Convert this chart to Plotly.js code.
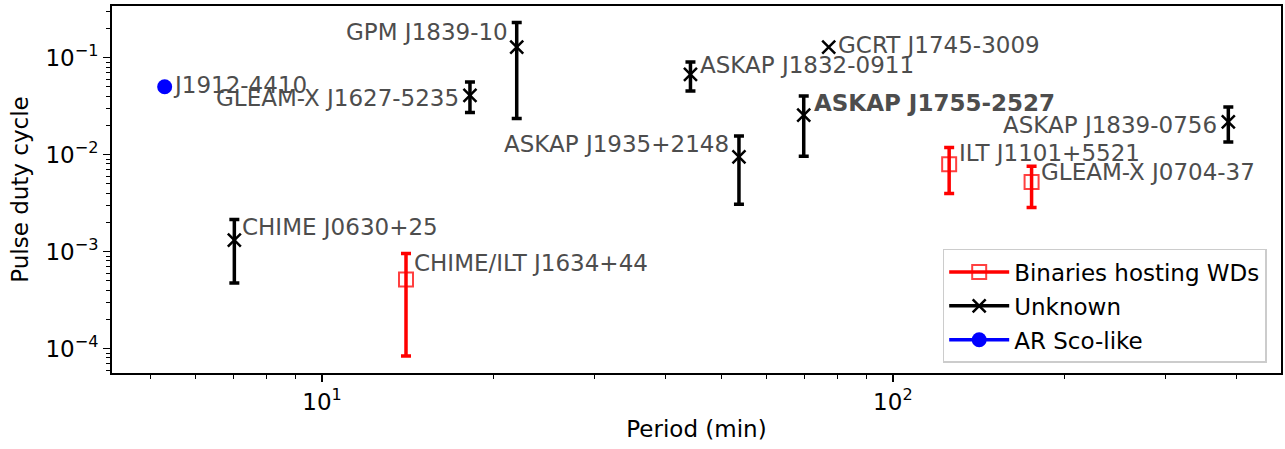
<!DOCTYPE html>
<html>
<head>
<meta charset="utf-8">
<script src="https://cdn.plot.ly/plotly-3.0.1.min.js"></script>
<style>html,body{margin:0;padding:0;background:#fff;}#plot{width:1285px;height:449px;}</style>
</head>
<body>
<div id="plot"></div>
<script>
// ---- data ----
const sourceNames = ["J1912-4410","CHIME J0630+25","GLEAM-X J1627-5235","GPM J1839-10","ASKAP J1832-0911",
  "ASKAP J1935+2148","ASKAP J1755-2527","GCRT J1745-3009","ILT J1101+5521","GLEAM-X J0704-37",
  "ASKAP J1839-0756","CHIME/ILT J1634+44"];
const periodMin = [5.30, 7.02, 18.16, 21.93, 44.2, 53.75, 69.8, 77.2, 125.5, 175, 387, 14.03];
const dutyCycle = [0.050, 1.31e-3, 0.0409, 0.1285, 0.0673, 9.47e-3, 0.0255, 0.1285, 7.96e-3, 5.23e-3, 0.0217, 5.16e-4];
const dutyUpper = [null, 2.14e-3, 0.0561, 0.2295, 0.0901, 0.01556, 0.0402, null, 0.01183, 7.59e-3, 0.0310, 9.57e-4];
const dutyLower = [null, 4.73e-4, 0.0271, 0.0235, 0.0453, 3.08e-3, 9.6e-3, null, 3.97e-3, 2.85e-3, 0.01352, 8.37e-5];
const sourceClass = ["AR Sco-like","Unknown","Unknown","Unknown","Unknown","Unknown","Unknown","Unknown",
  "Binaries hosting WDs","Binaries hosting WDs","Unknown","Binaries hosting WDs"];
const classOrder = ["Binaries hosting WDs","Unknown","AR Sco-like"];
const xTickVals = [10, 100];
const xTickText = ["10<sup>1</sup>","10<sup>2</sup>"];
const yTickVals = [1e-4, 1e-3, 1e-2, 1e-1];
const yTickText = ["10<sup>\u22124</sup>","10<sup>\u22123</sup>","10<sup>\u22122</sup>","10<sup>\u22121</sup>"];

// ---- styles ----
const classStyle = {
  "Binaries hosting WDs": {color: "red", symbol: "square-open", size: 14, lw: 2, mcolor: "rgba(255,0,0,0.75)"},
  "Unknown": {color: "black", symbol: "x-thin-open", size: 13, lw: 2.5, mcolor: "black"},
  "AR Sco-like": {color: "blue", symbol: "circle", size: 15, lw: 0, mcolor: "blue"}
};
// label placement: [anchor, dx px, dy px (positive = down), bold]
const labelPlace = {
  "J1912-4410": ["left", 6, -1.5, false],
  "CHIME J0630+25": ["left", 6, -13.7, false],
  "GLEAM-X J1627-5235": ["right", -9, 3, false],
  "GPM J1839-10": ["right", -7, -15, false],
  "ASKAP J1832-0911": ["left", 8, -9, false],
  "ASKAP J1935+2148": ["right", -8, -13, false],
  "ASKAP J1755-2527": ["left", 8, -12.5, true],
  "GCRT J1745-3009": ["left", 7.5, -1.7, false],
  "ILT J1101+5521": ["left", 8, -11.2, false],
  "GLEAM-X J0704-37": ["left", 7.5, -9.7, false],
  "ASKAP J1839-0756": ["right", -9.5, 2.8, false],
  "CHIME/ILT J1634+44": ["left", 6, -16.3, false]
};

const FONT = "DejaVu Sans, Liberation Sans, sans-serif";
const FS = 23;
const traces = [];
classOrder.forEach(function(cls){
  const st = classStyle[cls];
  const idxErr = [], idxNo = [];
  sourceClass.forEach(function(c,i){ if (c===cls){ (dutyUpper[i]!==null ? idxErr : idxNo).push(i); } });
  [idxErr, idxNo].forEach(function(idx, k){
    if (!idx.length) return;
    const t = {
      type: "scatter", mode: "markers", showlegend: false, hoverinfo: "skip",
      x: idx.map(i=>periodMin[i]), y: idx.map(i=>dutyCycle[i]),
      marker: {symbol: st.symbol, size: st.size, color: st.mcolor, line: {color: st.mcolor, width: st.lw}}
    };
    if (k===0) {
      t.error_y = {type: "data", symmetric: false,
        array: idx.map(i=>dutyUpper[i]-dutyCycle[i]),
        arrayminus: idx.map(i=>dutyCycle[i]-dutyLower[i]),
        color: st.color, thickness: 3.5, width: 5};
    }
    traces.push(t);
  });
});
// legend entries
classOrder.forEach(function(cls, g){
  const st = classStyle[cls];
  traces.push({type: "scatter", mode: "lines+markers", name: cls, x: [null], y: [null],
    legendgroup: "g"+g, showlegend: true,
    line: {color: st.color, width: 3.5},
    marker: {symbol: st.symbol, size: st.size, color: st.mcolor, line: {color: st.mcolor, width: st.lw}}});
});

const annotations = sourceNames.map(function(n,i){
  const p = labelPlace[n];
  return {x: Math.log10(periodMin[i]), y: Math.log10(dutyCycle[i]), xref: "x", yref: "y",
    text: p[3] ? "<b>"+n+"</b>" : n, showarrow: false, xanchor: p[0], yanchor: "middle",
    xshift: p[1], yshift: -p[2], font: {family: FONT, size: FS, color: "#4d4d4d"}};
});

const axisCommon = {
  type: "log", showgrid: false, zeroline: false, showline: true, mirror: true,
  linecolor: "black", linewidth: 2, ticks: "outside", ticklen: 7, tickwidth: 1.5, tickcolor: "black",
  tickfont: {family: FONT, size: FS, color: "black"},
  minor: {ticks: "outside", ticklen: 4, tickwidth: 1, tickcolor: "black", showgrid: false, dtick: "D1"}
};

const layout = {
  width: 1285, height: 449, paper_bgcolor: "white", plot_bgcolor: "white",
  margin: {l: 112, r: 4, t: 6, b: 76},
  font: {family: FONT, size: FS, color: "black"},
  xaxis: Object.assign({}, axisCommon, {range: [0.632, 2.680], tickvals: xTickVals, ticktext: xTickText,
    title: {text: "Period (min)", font: {family: FONT, size: FS, color: "black"}, standoff: 7}}),
  yaxis: Object.assign({}, axisCommon, {range: [-4.252, -0.468], tickvals: yTickVals, ticktext: yTickText,
    title: {text: "Pulse duty cycle", font: {family: FONT, size: FS, color: "black"}, standoff: 10}}),
  showlegend: true,
  legend: {x: 0.7106, y: 0.338, xanchor: "left", yanchor: "top", bgcolor: "rgba(255,255,255,0.8)",
    bordercolor: "#cccccc", borderwidth: 1.5, font: {family: FONT, size: FS, color: "black"},
    itemwidth: 60, tracegroupgap: 1, traceorder: "grouped"},
  annotations: annotations
};

Plotly.newPlot("plot", traces, layout, {staticPlot: true, displayModeBar: false});
</script>
</body>
</html>
